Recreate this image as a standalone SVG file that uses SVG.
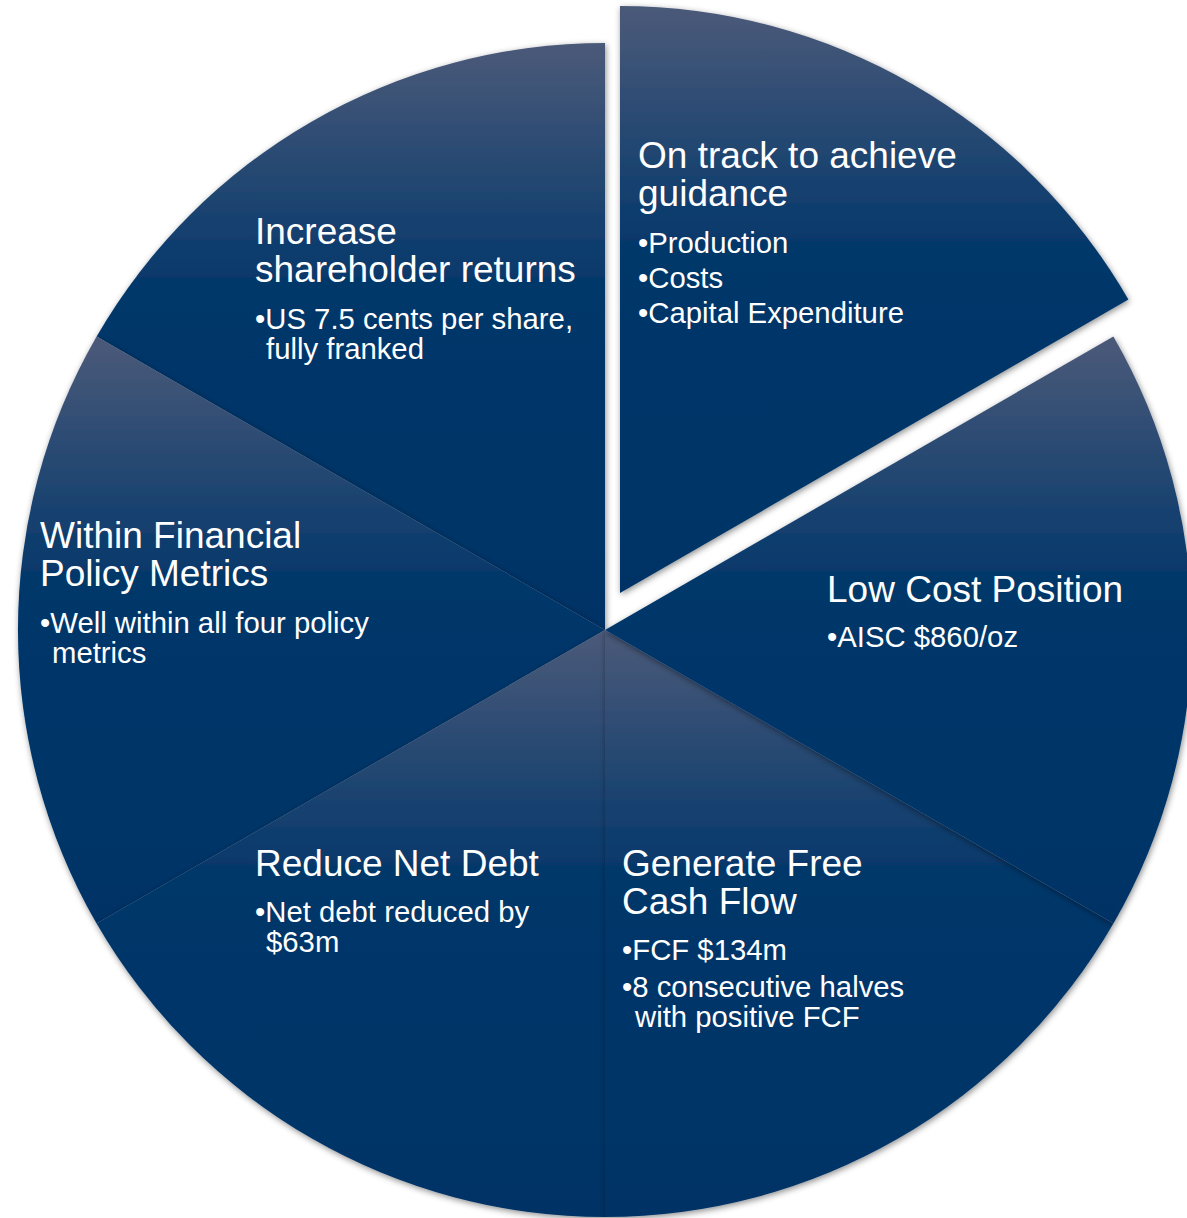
<svg xmlns="http://www.w3.org/2000/svg" width="1187" height="1218" viewBox="0 0 1187 1218">
<defs>
<linearGradient id="g" x1="0" y1="0" x2="0" y2="1">
<stop offset="0" stop-color="#4b5a79"/>
<stop offset="0.42" stop-color="#03376b"/>
<stop offset="1" stop-color="#003366"/>
</linearGradient>
<filter id="sh" x="-10%" y="-10%" width="120%" height="120%">
<feDropShadow dx="1" dy="2" stdDeviation="3" flood-color="#000" flood-opacity="0.45"/>
</filter>
</defs>
<style>
.s{fill:url(#g);filter:url(#sh)}
.t{font-family:"Liberation Sans",Arial,sans-serif;fill:#fff;font-size:37px}
.b{font-family:"Liberation Sans",Arial,sans-serif;fill:#fff;font-size:29.3px}
</style>
<g id="slice-increase"><path class="s" d="M605,630 L96.6,336.5 A587,587 0 0 1 605,43 Z"/>
<text class="t" x="255" y="244">Increase</text><text class="t" x="255" y="282">shareholder returns</text>
<text class="b" x="255" y="329">•US 7.5 cents per share,<tspan x="266" y="359">fully franked</tspan></text></g>
<g id="slice-within"><path class="s" d="M605,630 L96.6,923.5 A587,587 0 0 1 96.6,336.5 Z"/>
<text class="t" x="40" y="548">Within Financial</text><text class="t" x="40" y="586">Policy Metrics</text>
<text class="b" x="40" y="633">•Well within all four policy<tspan x="52" y="663">metrics</tspan></text></g>
<g id="slice-reduce"><path class="s" d="M605,630 L605,1217 A587,587 0 0 1 96.6,923.5 Z"/>
<text class="t" x="255" y="876">Reduce Net Debt</text>
<text class="b" x="255" y="922">•Net debt reduced by<tspan x="266" y="952">$63m</tspan></text></g>
<g id="slice-generate"><path class="s" d="M605,630 L1113.4,923.5 A587,587 0 0 1 605,1217 Z"/>
<text class="t" x="622" y="876">Generate Free</text><text class="t" x="622" y="914">Cash Flow</text>
<text class="b" x="622" y="960">•FCF $134m</text>
<text class="b" x="622" y="997">•8 consecutive halves<tspan x="635" y="1027">with positive FCF</tspan></text></g>
<g id="slice-lowcost"><path class="s" d="M605,630 L1113.4,336.5 A587,587 0 0 1 1113.4,923.5 Z"/>
<text class="t" x="827" y="602">Low Cost Position</text>
<text class="b" x="827" y="647">•AISC $860/oz</text></g>
<g id="slice-ontrack"><path class="s" d="M620,593 L620,6 A587,587 0 0 1 1128.4,299.5 Z"/>
<text class="t" x="638" y="168">On track to achieve</text><text class="t" x="638" y="206">guidance</text>
<text class="b" x="638" y="253">•Production</text>
<text class="b" x="638" y="288">•Costs</text>
<text class="b" x="638" y="323">•Capital Expenditure</text></g>
<g id="connectors"/>
</svg>
